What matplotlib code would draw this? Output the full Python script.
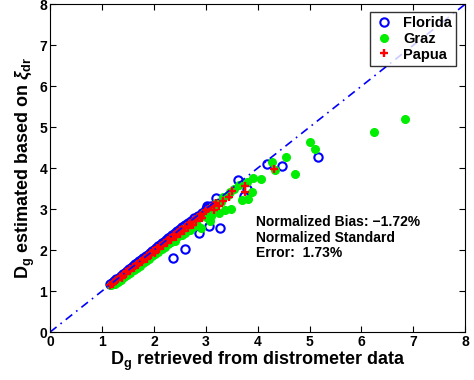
import matplotlib
matplotlib.use("Agg")
import matplotlib.pyplot as plt

plt.rcParams['font.family'] = ['Liberation Sans', 'DejaVu Sans']
plt.rcParams['font.weight'] = 'bold'
plt.rcParams['mathtext.fontset'] = 'custom'
plt.rcParams['mathtext.rm'] = 'Liberation Sans:bold'
plt.rcParams['mathtext.it'] = 'Liberation Sans:italic:bold'

# Florida (blue circles)
florida_x = [1.16, 1.20, 1.24, 1.28, 1.32, 1.36, 1.40, 1.44, 1.48, 1.52, 1.56, 1.60, 1.64, 1.68,
             1.72, 1.76, 1.80, 1.84, 1.88, 1.92, 1.96, 2.00, 2.04, 2.08, 2.12, 2.16, 2.20, 2.24,
             2.28, 2.32, 2.36, 2.40, 2.45, 2.50, 2.55, 2.60, 2.66, 2.72, 2.78, 2.85, 2.92, 3.00,
             3.05, 3.10, 1.50, 2.00, 2.30, 2.50, 2.70, 2.365, 2.61, 2.88, 3.07, 3.27, 3.02, 3.20,
             3.63, 3.73, 3.80, 4.18, 4.47, 5.17]
florida_y = [1.18, 1.21, 1.25, 1.29, 1.33, 1.37, 1.41, 1.45, 1.49, 1.53, 1.57, 1.61, 1.65, 1.69,
             1.73, 1.77, 1.81, 1.85, 1.89, 1.93, 1.97, 2.01, 2.05, 2.09, 2.13, 2.17, 2.21, 2.25,
             2.29, 2.33, 2.37, 2.41, 2.46, 2.51, 2.56, 2.61, 2.67, 2.72, 2.78, 2.84, 2.90, 3.00,
             3.05, 3.08, 1.46, 1.94, 2.20, 2.40, 2.55, 1.81, 2.03, 2.43, 2.59, 2.53, 3.07, 3.27,
             3.70, 3.33, 3.49, 4.11, 4.06, 4.28]

# Graz (green dots)
graz_x = [1.18, 1.23, 1.28, 1.33, 1.38, 1.43, 1.48, 1.53, 1.58, 1.63, 1.68, 1.73, 1.78, 1.83,
          1.88, 1.93, 1.98, 2.03, 2.08, 2.13, 2.18, 2.23, 2.28, 2.33, 2.38, 2.43, 2.48, 2.53,
          2.58, 2.63, 2.68, 2.73, 2.78, 2.85, 2.92, 3.00,
          1.25, 1.31, 1.37, 1.43, 1.49, 1.55, 1.61, 1.67, 1.73, 1.79, 1.85, 1.91, 1.97, 2.03,
          2.09, 2.15, 2.21, 2.27, 2.33, 2.39, 2.45, 2.52, 2.60, 2.68, 2.76, 2.84,
          6.83, 6.25, 5.00, 5.11, 4.54, 4.72, 4.28, 4.34, 4.06, 3.92, 3.90, 3.82, 3.70, 3.48,
          3.38, 3.25, 3.10, 3.08, 2.91, 3.65, 3.80, 3.55, 3.47, 3.34, 3.20, 3.12, 2.95,
          2.40, 2.55, 2.70, 2.82, 3.00, 3.15, 3.30, 3.42]
graz_y = [1.15, 1.20, 1.25, 1.30, 1.35, 1.39, 1.44, 1.49, 1.54, 1.59, 1.64, 1.69, 1.74, 1.78,
          1.83, 1.88, 1.93, 1.98, 2.03, 2.08, 2.13, 2.17, 2.22, 2.27, 2.32, 2.37, 2.42, 2.47,
          2.52, 2.56, 2.61, 2.66, 2.71, 2.78, 2.85, 2.93,
          1.17, 1.23, 1.28, 1.34, 1.40, 1.45, 1.51, 1.57, 1.62, 1.68, 1.74, 1.79, 1.85, 1.91,
          1.96, 2.02, 2.08, 2.14, 2.19, 2.25, 2.31, 2.37, 2.42, 2.49, 2.57, 2.62,
          5.20, 4.88, 4.64, 4.46, 4.28, 3.86, 4.15, 3.95, 3.73, 3.76, 3.41, 3.24, 3.22, 3.01,
          2.99, 2.91, 2.83, 2.70, 2.55, 3.58, 3.67, 3.50, 3.42, 3.30, 3.15, 3.05, 2.88,
          2.22, 2.38, 2.50, 2.63, 2.80, 3.02, 3.18, 3.35]

# Papua (red plus)
papua_x = [1.15, 1.19, 1.23, 1.27, 1.31, 1.35, 1.39, 1.43, 1.47, 1.51, 1.55, 1.59, 1.63, 1.67,
           1.71, 1.75, 1.79, 1.83, 1.87, 1.91, 1.95, 1.99, 2.03, 2.07, 2.11, 2.15, 2.19, 2.23,
           2.27, 2.31, 2.35, 2.39, 2.43, 2.47, 2.51, 2.55, 2.60, 2.65, 2.70, 2.75, 2.80, 2.85,
           2.90, 2.95, 3.00, 3.05, 3.10, 3.15, 3.20,
           1.22, 1.30, 1.38, 1.46, 1.54, 1.62, 1.70, 1.78, 1.86, 1.94, 2.02, 2.10, 2.18, 2.26,
           2.34, 2.42, 2.50, 2.58, 2.66, 2.74, 2.82, 2.92,
           4.31, 3.75, 3.76, 3.50, 3.44, 3.33, 3.25, 3.15, 2.90, 2.75]
papua_y = [1.14, 1.18, 1.22, 1.26, 1.30, 1.34, 1.38, 1.42, 1.46, 1.50, 1.54, 1.58, 1.62, 1.66,
           1.69, 1.73, 1.77, 1.81, 1.85, 1.89, 1.93, 1.97, 2.01, 2.05, 2.09, 2.13, 2.17, 2.21,
           2.25, 2.29, 2.32, 2.36, 2.40, 2.44, 2.48, 2.52, 2.57, 2.62, 2.67, 2.72, 2.77, 2.81,
           2.86, 2.91, 2.96, 3.01, 3.06, 3.11, 3.16,
           1.18, 1.26, 1.33, 1.41, 1.48, 1.56, 1.64, 1.71, 1.79, 1.87, 1.94, 2.02, 2.09, 2.17,
           2.24, 2.32, 2.39, 2.47, 2.54, 2.62, 2.70, 2.79,
           3.98, 3.56, 3.42, 3.44, 3.30, 3.20, 3.07, 2.98, 2.78, 2.62]

ref_line = [0, 8]
ticks = [0, 1, 2, 3, 4, 5, 6, 7, 8]
stats_text = "Normalized Bias: \u22121.72%\nNormalized Standard\nError:  1.73%"

fig = plt.figure(figsize=(4.74, 3.80), dpi=100)
ax = fig.add_axes([0.1055, 0.126, 0.876, 0.863])

ax.plot(florida_x, florida_y, 'o', mfc='none', mec='#0000ff', mew=1.5, ms=6, label='Florida')
ax.plot(graz_x, graz_y, 'o', mfc='#00ee00', mec='#00ee00', ms=5.5, label='Graz')
ax.plot(papua_x, papua_y, '+', color='#ff0000', mew=1.7, ms=6, label='Papua')
ax.plot(ref_line, ref_line, color='#0000ff', lw=1.2, dashes=[5, 3, 1, 3])

ax.set_xlim(0, 8)
ax.set_ylim(0, 8)
ax.set_xticks(ticks)
ax.set_yticks(ticks)
ax.tick_params(direction='in', top=True, right=True, length=4, width=0.8,
               labelsize=10, pad=2)
for lab in ax.get_xticklabels() + ax.get_yticklabels():
    lab.set_fontweight('bold')

ax.set_xlabel(r'D$_\mathregular{g}$ retrieved from distrometer data', fontsize=13,
              fontweight='bold', labelpad=1)
ax.set_ylabel(r'D$_\mathregular{g}$ estimated based on $\xi_{\mathregular{dr}}$', fontsize=13,
              fontweight='bold', labelpad=2)

ax.text(3.97, 2.3, stats_text, fontsize=10, fontweight='bold', ha='left', va='center',
        linespacing=1.15)

leg = ax.legend(loc='upper right', fontsize=10.5, frameon=True, fancybox=False,
                edgecolor='black', handletextpad=0.7, borderaxespad=0.4, borderpad=0.3,
                handlelength=1.3, labelspacing=0.12, bbox_to_anchor=(0.993, 0.995))
leg.get_frame().set_linewidth(1.0)
for t in leg.get_texts():
    t.set_fontweight('bold')

fig.savefig('out.png', dpi=100)
